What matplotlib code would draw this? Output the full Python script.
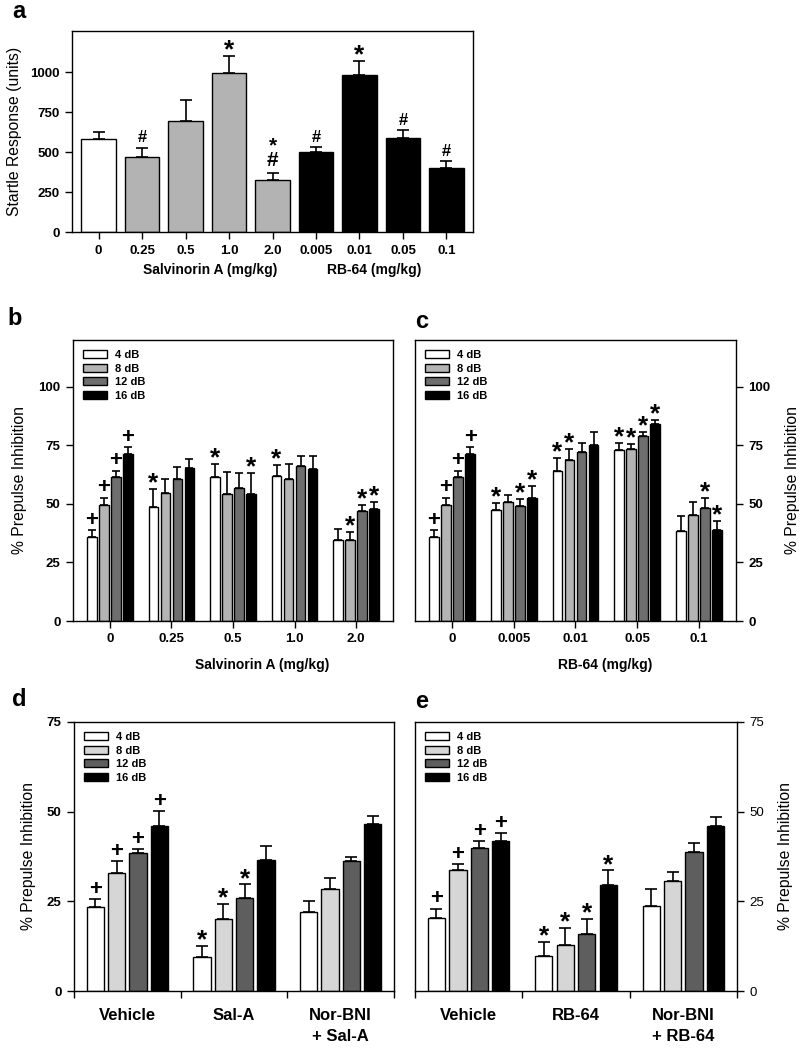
import matplotlib
matplotlib.use("Agg")
import matplotlib.pyplot as plt
import numpy as np

plt.rcParams['font.family'] = ['Liberation Sans', 'DejaVu Sans']

W, H = 804, 1050

# ---- panel a: startle response ----
a_labels = ["0", "0.25", "0.5", "1.0", "2.0", "0.005", "0.01", "0.05", "0.1"]
a_values = [585, 469, 694, 994, 327, 502, 983, 592, 402]
a_sem = [42, 60, 133, 108, 42, 29, 92, 45, 40]
a_marks = ["", "#", "", "*", "#*", "#", "*", "#", "#"]

# ---- panel b: salvinorin A, PPI ----
b_groups = ["0", "0.25", "0.5", "1.0", "2.0"]
b_4db = [35.8, 48.6, 61.3, 62.0, 34.8]
b_8db = [49.6, 54.6, 54.1, 60.7, 34.8]
b_12db = [61.7, 60.8, 56.7, 66.0, 47.0]
b_16db = [71.4, 65.5, 54.4, 64.7, 47.7]
b_4db_sem = [2.9, 7.8, 5.6, 4.5, 4.5]
b_8db_sem = [3.1, 6.1, 9.6, 6.3, 3.2]
b_12db_sem = [2.5, 4.9, 6.3, 4.4, 2.7]
b_16db_sem = [3.0, 3.6, 8.8, 5.7, 3.0]
b_4db_marks = ["+", "*", "*", "*", ""]
b_8db_marks = ["+", "", "", "", "*"]
b_12db_marks = ["+", "", "", "", "*"]
b_16db_marks = ["+", "", "*", "", "*"]

# ---- panel c: RB-64, PPI ----
c_groups = ["0", "0.005", "0.01", "0.05", "0.1"]
c_4db = [35.8, 47.2, 64.2, 73.2, 38.3]
c_8db = [49.6, 50.7, 68.7, 73.5, 45.2]
c_12db = [61.7, 49.3, 72.1, 78.8, 48.3]
c_16db = [71.2, 52.7, 75.2, 84.0, 38.7]
c_4db_sem = [2.9, 3.2, 5.6, 2.7, 6.6]
c_8db_sem = [3.1, 2.9, 4.8, 2.1, 5.7]
c_12db_sem = [2.5, 2.8, 4.1, 2.1, 4.4]
c_16db_sem = [2.9, 4.8, 5.7, 1.8, 4.2]
c_4db_marks = ["+", "*", "*", "*", ""]
c_8db_marks = ["+", "", "*", "*", ""]
c_12db_marks = ["+", "*", "", "*", "*"]
c_16db_marks = ["+", "*", "", "*", "*"]

# ---- panel d: nor-BNI + Sal-A ----
d_groups = ["Vehicle", "Sal-A", "Nor-BNI\n+ Sal-A"]
d_4db = [23.3, 9.6, 22.0]
d_8db = [33.0, 20.1, 28.3]
d_12db = [38.4, 25.8, 36.2]
d_16db = [46.0, 36.5, 46.6]
d_4db_sem = [2.4, 2.9, 3.1]
d_8db_sem = [3.2, 4.2, 3.2]
d_12db_sem = [1.1, 3.9, 1.2]
d_16db_sem = [4.2, 3.9, 2.2]
d_4db_marks = ["+", "*", ""]
d_8db_marks = ["+", "*", ""]
d_12db_marks = ["+", "*", ""]
d_16db_marks = ["+", "", ""]

# ---- panel e: nor-BNI + RB-64 ----
e_groups = ["Vehicle", "RB-64", "Nor-BNI\n+ RB-64"]
e_4db = [20.4, 9.7, 23.8]
e_8db = [33.6, 12.8, 30.6]
e_12db = [39.8, 15.9, 38.7]
e_16db = [41.7, 29.5, 46.1]
e_4db_sem = [2.6, 3.9, 4.5]
e_8db_sem = [1.7, 4.7, 2.6]
e_12db_sem = [1.9, 4.1, 2.7]
e_16db_sem = [2.3, 4.1, 2.4]
e_4db_marks = ["+", "*", ""]
e_8db_marks = ["+", "*", ""]
e_12db_marks = ["+", "*", ""]
e_16db_marks = ["+", "*", ""]

series_names = ["4 dB", "8 dB", "12 dB", "16 dB"]

MARK_SIZE = {"*": 19, "+": 16, "#": 12}
MARK_OFF = {"*": 4, "+": 7, "#": 7}


def px_axes(fig, left, top, right, bottom):
    return fig.add_axes([left / W, 1 - bottom / H, (right - left) / W, (bottom - top) / H])


def style_axes(ax):
    for sp in ax.spines.values():
        sp.set_linewidth(1.0)
    ax.tick_params(direction="out", length=5, width=1, labelsize=9.5, pad=4)
    for lab in ax.get_xticklabels() + ax.get_yticklabels():
        lab.set_fontweight("bold")


def put_marks(ax, x, top, marks):
    if len(marks) == 1:
        ax.annotate(marks, (x, top), xytext=(0, MARK_OFF[marks]), textcoords="offset points",
                    ha="center", va="center", fontsize=MARK_SIZE[marks], fontweight="bold")
    else:
        # stacked symbols, first char lowest, kept as one text
        ax.annotate("\n".join(reversed(marks)), (x, top), xytext=(0, 2), textcoords="offset points",
                    ha="center", va="bottom", fontsize=15, fontweight="bold", linespacing=0.72)


def grouped(ax, values, sems, marks, colors, pitch, width, capsize):
    x = np.arange(len(values[0]))
    handles = []
    for i in range(4):
        xs = x + (i - 1.5) * pitch
        h = ax.bar(xs, values[i], width, color=colors[i], edgecolor="black", linewidth=1, zorder=2)
        handles.append(h)
        ax.errorbar(xs, values[i], yerr=[np.zeros(len(xs)), sems[i]], fmt="none",
                    ecolor="black", elinewidth=1.2, capsize=capsize, capthick=1.2, zorder=3)
        for j in range(len(xs)):
            if marks[i][j]:
                put_marks(ax, xs[j], values[i][j] + sems[i][j], marks[i][j])
    ax.legend(handles, series_names, loc="upper left", frameon=False,
              prop={"size": 8, "weight": "bold"}, handlelength=2.2, handleheight=0.7,
              labelspacing=0.32, borderaxespad=0.5, handletextpad=0.7)


fig = plt.figure(figsize=(W / 100, H / 100), dpi=100)

# panel a
ax = px_axes(fig, 72, 31, 473, 232)
xa = np.arange(len(a_values))
a_colors = ["white"] + ["#b3b3b3"] * 4 + ["black"] * 4
ax.bar(xa, a_values, 0.8, color=a_colors, edgecolor="black", linewidth=1, zorder=2)
ax.errorbar(xa, a_values, yerr=[np.zeros(len(xa)), a_sem], fmt="none", ecolor="black",
            elinewidth=1.2, capsize=4.5, capthick=1.2, zorder=3)
for j in range(len(xa)):
    if a_marks[j]:
        put_marks(ax, xa[j], a_values[j] + a_sem[j], a_marks[j])
ax.set_xlim(-0.61, 8.61)
ax.set_ylim(0, 1260)
ax.set_yticks([0, 250, 500, 750, 1000])
ax.set_xticks(xa)
ax.set_xticklabels(a_labels)
ax.set_ylabel("Startle Response (units)", fontsize=11.3, labelpad=6)
style_axes(ax)
fig.text(210 / W, 1 - 270 / H, "Salvinorin A (mg/kg)", ha="center", va="center",
         fontsize=10, fontweight="bold")
fig.text(374 / W, 1 - 270 / H, "RB-64 (mg/kg)", ha="center", va="center",
         fontsize=10, fontweight="bold")

bc_colors = ["white", "#b4b4b4", "#6e6e6e", "black"]

# panel b
ax = px_axes(fig, 73, 340, 393, 621)
grouped(ax, [b_4db, b_8db, b_12db, b_16db], [b_4db_sem, b_8db_sem, b_12db_sem, b_16db_sem],
        [b_4db_marks, b_8db_marks, b_12db_marks, b_16db_marks], bc_colors, 0.195, 0.16, 3.2)
ax.set_xlim(-0.6, 4.6)
ax.set_ylim(0, 120)
ax.set_yticks([0, 25, 50, 75, 100])
ax.set_xticks(np.arange(len(b_groups)))
ax.set_xticklabels(b_groups)
ax.set_ylabel("% Prepulse Inhibition", fontsize=11.3, labelpad=8)
style_axes(ax)
fig.text(262 / W, 1 - 665 / H, "Salvinorin A (mg/kg)", ha="center", va="center",
         fontsize=10, fontweight="bold")

# panel c
ax = px_axes(fig, 415, 340, 736, 621)
grouped(ax, [c_4db, c_8db, c_12db, c_16db], [c_4db_sem, c_8db_sem, c_12db_sem, c_16db_sem],
        [c_4db_marks, c_8db_marks, c_12db_marks, c_16db_marks], bc_colors, 0.195, 0.16, 3.2)
ax.set_xlim(-0.6, 4.6)
ax.set_ylim(0, 120)
ax.set_yticks([0, 25, 50, 75, 100])
ax.set_xticks(np.arange(len(c_groups)))
ax.set_xticklabels(c_groups)
ax.yaxis.tick_right()
ax.yaxis.set_label_position("right")
ax.set_ylabel("% Prepulse Inhibition", fontsize=11.3, labelpad=10)
style_axes(ax)
fig.text(605 / W, 1 - 665 / H, "RB-64 (mg/kg)", ha="center", va="center",
         fontsize=10, fontweight="bold")

de_colors = ["white", "#d6d6d6", "#5e5e5e", "black"]


def group_axis(ax, groups):
    n = len(groups)
    ax.set_xlim(-0.5, n - 0.5)
    ax.set_xticks(np.arange(n))
    ax.set_xticklabels(groups, fontsize=12, fontweight="bold", linespacing=1.5)
    ax.set_xticks(np.arange(n + 1) - 0.5, minor=True)
    ax.tick_params(axis="x", which="major", length=0, pad=12)
    ax.tick_params(axis="x", which="minor", direction="out", length=5, width=1)
    ax.set_ylim(0, 75)
    ax.set_yticks([0, 25, 50, 75])
    for sp in ax.spines.values():
        sp.set_linewidth(1.0)
    ax.tick_params(axis="y", direction="out", length=5, width=1, labelsize=9.5, pad=4)
    for lab in ax.get_yticklabels():
        lab.set_fontweight("bold")


# panel d
ax = px_axes(fig, 74, 722, 394, 991)
grouped(ax, [d_4db, d_8db, d_12db, d_16db], [d_4db_sem, d_8db_sem, d_12db_sem, d_16db_sem],
        [d_4db_marks, d_8db_marks, d_12db_marks, d_16db_marks], de_colors, 0.2, 0.16, 4)
group_axis(ax, d_groups)
ax.set_ylabel("% Prepulse Inhibition", fontsize=11.3, labelpad=8)

# panel e
ax = px_axes(fig, 415, 722, 737, 991)
grouped(ax, [e_4db, e_8db, e_12db, e_16db], [e_4db_sem, e_8db_sem, e_12db_sem, e_16db_sem],
        [e_4db_marks, e_8db_marks, e_12db_marks, e_16db_marks], de_colors, 0.2, 0.16, 4)
group_axis(ax, e_groups)
ax.yaxis.tick_right()
ax.yaxis.set_label_position("right")
ax.set_ylabel("% Prepulse Inhibition", fontsize=11.3, labelpad=10)

# panel letters
for letter, px, py in [("a", 12, 12), ("b", 7, 319), ("c", 415, 322), ("d", 12, 699), ("e", 415, 702)]:
    fig.text(px / W, 1 - py / H, letter, ha="left", va="center", fontsize=17, fontweight="bold")

fig.savefig("out.png", dpi=100)
